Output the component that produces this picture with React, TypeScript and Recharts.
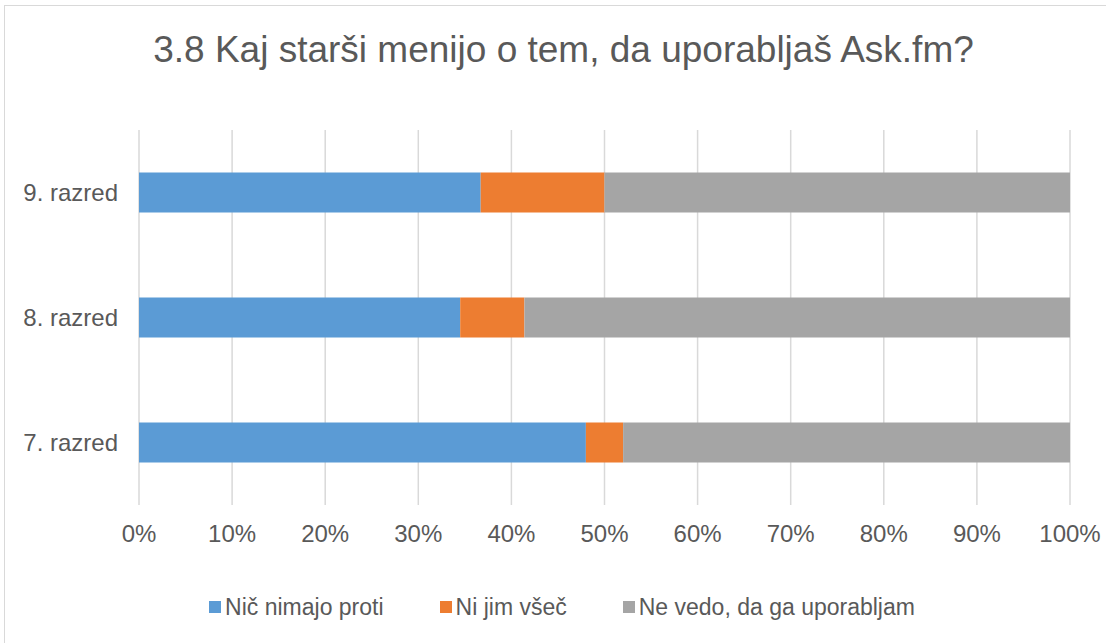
import { BarChart, Bar, XAxis, YAxis, CartesianGrid } from 'recharts';

const categories = ['9. razred', '8. razred', '7. razred'];
const nicNimajoProti = [36.7, 34.5, 48.0];
const niJimVsec = [13.3, 6.9, 4.0];
const neVedo = [50.0, 58.6, 48.0];
const xTicks = [0, 10, 20, 30, 40, 50, 60, 70, 80, 90, 100];

const seriesNames = ['Nič nimajo proti', 'Ni jim všeč', 'Ne vedo, da ga uporabljam'];
const seriesColors = ['#5B9BD5', '#ED7D31', '#A5A5A5'];

const data = categories.map((name, i) => ({
  name,
  a: nicNimajoProti[i],
  b: niJimVsec[i],
  c: neVedo[i],
}));

const font = 'Arial, "Liberation Sans", sans-serif';
const textColor = '#595959';

export default function App() {
  return (
    <div
      style={{
        position: 'absolute',
        left: 0,
        top: 0,
        width: 1106,
        height: 643,
        overflow: 'hidden',
        background: '#fff',
        fontFamily: font,
      }}
    >
      <div
        style={{
          position: 'absolute',
          left: 4,
          top: 5,
          width: 1120,
          height: 660,
          border: '1px solid #d9d9d9',
        }}
      />
      <div
        style={{
          position: 'absolute',
          top: 29,
          left: 0,
          width: 1127,
          textAlign: 'center',
          fontSize: 37,
          lineHeight: '42px',
          color: textColor,
        }}
      >
        3.8 Kaj starši menijo o tem, da uporabljaš Ask.fm?
      </div>
      <div style={{ position: 'absolute', left: 0, top: 0 }}>
        <BarChart
          width={1106}
          height={643}
          data={data}
          layout="vertical"
          barCategoryGap="34%"
          margin={{ top: 130, right: 36, bottom: 108, left: 0 }}
        >
          <CartesianGrid horizontal={false} stroke="#d9d9d9" strokeWidth={1.5} />
          <XAxis
            type="number"
            domain={[0, 100]}
            ticks={xTicks}
            tickFormatter={(v) => `${v}%`}
            axisLine={false}
            tickLine={false}
            tickSize={0}
            tickMargin={20}
            height={30}
            tick={{ fill: textColor, fontSize: 24, fontFamily: font }}
            interval={0}
          />
          <YAxis
            type="category"
            dataKey="name"
            width={139}
            axisLine={false}
            tickLine={false}
            tickSize={0}
            tickMargin={21}
            tick={{ fill: textColor, fontSize: 24, fontFamily: font }}
          />
          <Bar dataKey="a" name={seriesNames[0]} stackId="s" fill={seriesColors[0]} isAnimationActive={false} />
          <Bar dataKey="b" name={seriesNames[1]} stackId="s" fill={seriesColors[1]} isAnimationActive={false} />
          <Bar dataKey="c" name={seriesNames[2]} stackId="s" fill={seriesColors[2]} isAnimationActive={false} />
        </BarChart>
      </div>
      <div
        style={{
          position: 'absolute',
          top: 594,
          left: 0,
          width: 1124,
          display: 'flex',
          justifyContent: 'center',
          fontSize: 23,
          lineHeight: '26px',
          color: textColor,
        }}
      >
        {seriesNames.map((n, i) => (
          <div key={n} style={{ display: 'flex', alignItems: 'center', margin: '0 28px' }}>
            <span
              style={{
                display: 'inline-block',
                width: 12,
                height: 12,
                background: seriesColors[i],
                marginRight: 4,
              }}
            />
            <span>{n}</span>
          </div>
        ))}
      </div>
    </div>
  );
}
